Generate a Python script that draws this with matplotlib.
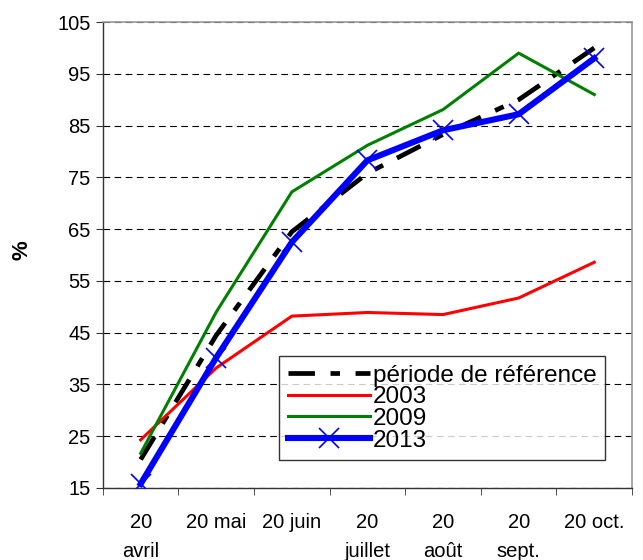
import numpy as np
import matplotlib.pyplot as plt
from matplotlib.ticker import FixedLocator

plt.rcParams['font.family'] = ['Liberation Sans', 'DejaVu Sans']

# data
dates = ['20\navril', '20 mai', '20 juin', '20\njuillet', '20\naoût', '20\nsept.', '20 oct.']
reference = [20.5, 44.5, 64.5, 75.8, 83.3, 90.0, 100.0]
y2003 = [24.3, 38.2, 48.2, 48.9, 48.5, 51.7, 58.6]
y2009 = [21.7, 49.0, 72.2, 81.2, 88.1, 99.0, 91.0]
y2013 = [15.8, 40.2, 62.5, 78.3, 84.1, 87.2, 98.0]

fig = plt.figure(figsize=(6.43, 5.60), dpi=100)
ax = fig.add_axes([0.160, 0.1286, 0.823, 0.832])

x = np.arange(len(dates))

ax.plot(x, reference, color='black', lw=3.4, dashes=(5.6, 3.3, 2.0, 3.3), label='période de référence', zorder=3)
ax.plot(x, y2003, color='#ff0000', lw=2.2, label='2003', zorder=3)
ax.plot(x, y2009, color='#008000', lw=2.2, label='2009', zorder=3)
ax.plot(x, y2013, color='#0000ff', lw=4.4, marker='x', markersize=14, markeredgewidth=1.2,
        label='2013', zorder=4)

ax.set_xlim(-0.5, len(dates) - 0.5)
ax.set_ylim(15, 105)
ax.set_yticks(np.arange(15, 106, 10))
ax.yaxis.grid(True, color='black', linestyle=(0, (6, 4)), linewidth=0.8)
ax.set_axisbelow(True)

ax.set_xticks(x)
ax.set_xticklabels(dates, fontsize=14.5, linespacing=1.65, va='top')
ax.xaxis.set_minor_locator(FixedLocator(np.arange(-0.5, len(dates), 1.0)))
ax.tick_params(axis='x', which='major', length=0, pad=18)
ax.tick_params(axis='x', which='minor', length=5, direction='out', color='#333333')
ax.tick_params(axis='y', labelsize=14.5, length=5, direction='out', color='#333333', pad=4)

for side in ['top', 'right']:
    ax.spines[side].set_color('#999999')
    ax.spines[side].set_linewidth(1.2)
for side in ['left', 'bottom']:
    ax.spines[side].set_color('#333333')
    ax.spines[side].set_linewidth(1.0)

ax.set_ylabel('%', fontsize=16, fontweight='bold')
ax.yaxis.set_label_coords(-0.133, 0.51)

leg = ax.legend(loc='lower left', bbox_to_anchor=(0.333, 0.06),
                fontsize=17.5, handlelength=3.4, handletextpad=0.12, labelspacing=-0.02,
                borderpad=0.35, borderaxespad=0, frameon=True, fancybox=False)
leg.get_frame().set_edgecolor('black')
leg.get_frame().set_linewidth(1.0)

fig.savefig('out.png', dpi=100)
